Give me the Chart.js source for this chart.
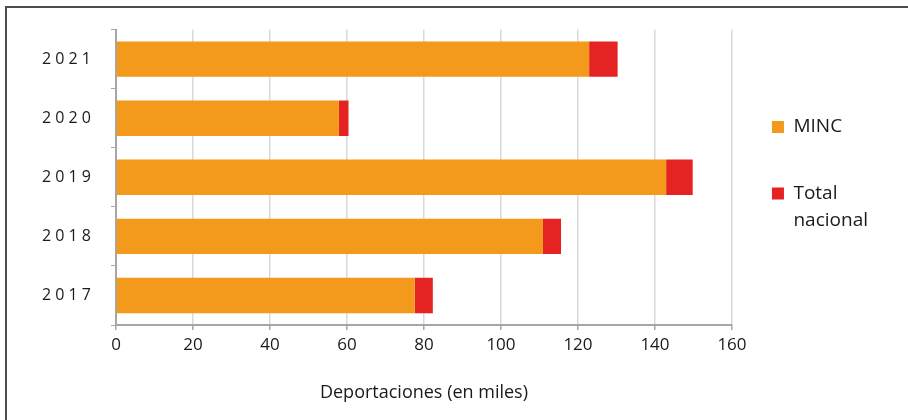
<!DOCTYPE html>
<html lang="es">
<head>
  <meta charset="UTF-8">
  <title>Deportaciones</title>
  <style>
    body {
      margin: 0;
      background: #fff;
    }
    /* marco: solo borde superior e izquierdo visibles */
    .frame {
      position: absolute;
      left: 5px;
      top: 6px;
      right: 0;
      bottom: 0;
      border-top: 2px solid #4d4d4d;
      border-left: 2px solid #4d4d4d;
    }
    .wrap {
      position: absolute;
      left: 0;
      top: 0;
      width: 908px;
      height: 420px;
    }
  </style>
</head>
<body>

<div class="frame"></div>
<div class="wrap"><canvas id="chart"></canvas></div>

<script src="https://cdn.jsdelivr.net/npm/chart.js"></script>
<script>
  // Datos (en miles)
  const years = ['2021', '2020', '2019', '2018', '2017'];
  const minc = [122.9, 57.9, 142.9, 110.9, 77.6];
  const totalNacional = [7.4, 2.5, 6.9, 4.7, 4.7];
  const xMin = 0, xMax = 160, xStep = 20;

  const FONT = "'Open Sans', sans-serif";
  const textColor = '#1a1a1a';
  const axisColor = '#a6a6a6';
  const gridColor = '#d9d9d9';

  const ctx = document.getElementById('chart').getContext('2d');

  new Chart(ctx, {
    type: 'bar',
    data: {
      labels: years,
      datasets: [
        {
          label: 'MINC',
          data: minc,
          backgroundColor: '#f39a1c',
          barPercentage: 0.6,
          categoryPercentage: 1
        },
        {
          label: 'Total nacional',
          data: totalNacional,
          backgroundColor: '#e42322',
          barPercentage: 0.6,
          categoryPercentage: 1
        }
      ]
    },
    options: {
      indexAxis: 'y',
      responsive: true,
      maintainAspectRatio: false,
      animation: false,
      layout: {
        padding: { top: 29, left: 0, right: 30, bottom: 12 }
      },
      scales: {
        x: {
          stacked: true,
          min: xMin,
          max: xMax,
          ticks: {
            stepSize: xStep,
            color: textColor,
            font: { family: FONT, size: 17 },
            padding: 5
          },
          grid: {
            color: gridColor,
            lineWidth: 1.5,
            tickColor: axisColor,
            tickLength: 5
          },
          border: { color: axisColor, width: 2 },
          title: {
            display: true,
            text: 'Deportaciones (en miles)',
            color: textColor,
            font: { family: FONT, size: 18 },
            padding: { top: 22 }
          }
        },
        y: {
          stacked: true,
          afterFit(scale) { scale.width = 116; },
          ticks: {
            color: textColor,
            font: { family: FONT, size: 16 },
            padding: 20,
            callback(value) {
              return this.getLabelForValue(value).split('').join(' ');
            }
          },
          grid: {
            drawOnChartArea: false,
            offset: true,
            tickColor: axisColor,
            tickLength: 5
          },
          border: { color: axisColor, width: 2 }
        }
      },
      plugins: {
        tooltip: { enabled: false },
        legend: {
          position: 'right',
          fullSize: false,
          labels: {
            color: textColor,
            font: { family: FONT, size: 19, lineHeight: 1.4 },
            boxWidth: 12,
            boxHeight: 12,
            padding: 40,
            // etiquetas como listas de líneas ("Total nacional" en dos líneas)
            generateLabels(chart) {
              const items = Chart.defaults.plugins.legend.labels.generateLabels(chart);
              items.forEach(it => { it.text = it.text.split(' '); });
              return items;
            }
          }
        }
      }
    }
  });
</script>
</body>
</html>
